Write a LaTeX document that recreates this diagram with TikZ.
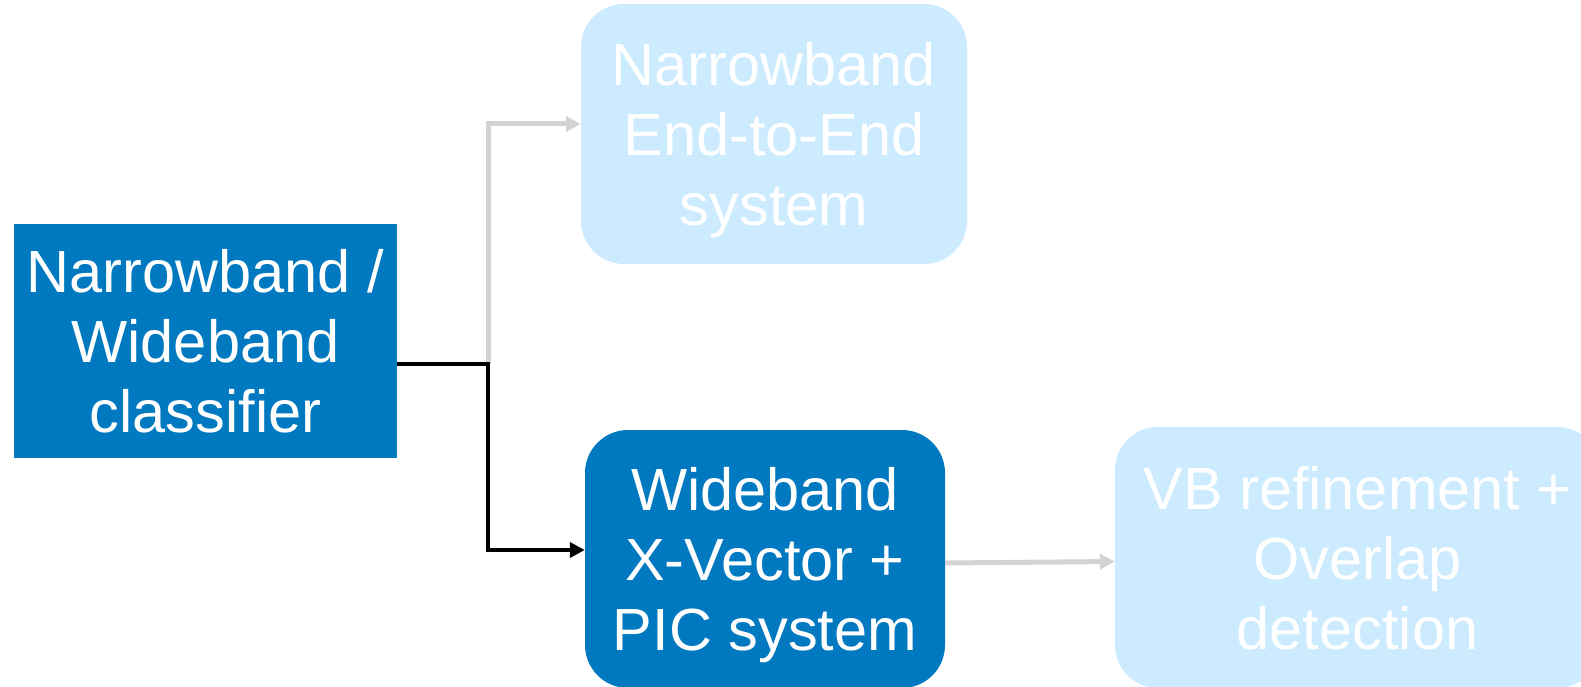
\documentclass[tikz,border=0pt]{standalone}
\usepackage{fontspec}
\setmainfont{Liberation Sans}
\usetikzlibrary{arrows.meta}
\definecolor{darkblue}{RGB}{0,121,193}
\definecolor{paleblue}{RGB}{204,235,255}
\definecolor{linkgray}{RGB}{211,211,211}
\tikzset{
  boxtext/.style={align=center, text=white, inner sep=0pt, text depth=0pt,
    font=\fontsize{59.5}{70}\selectfont},
  classbox/.style={boxtext, fill=darkblue, minimum width=383pt, minimum height=234pt},
  activebox/.style={boxtext, fill=darkblue, rounded corners=43pt},
  idlebox/.style={boxtext, fill=paleblue, rounded corners=43pt},
  activelink/.style={draw=black, line width=4.5pt, -{Triangle[length=15pt,width=15pt]}},
  idlelink/.style={draw=linkgray, line width=5pt, -{Triangle[length=15pt,width=15pt]}}
}
\begin{document}
\begin{tikzpicture}[x=1pt, y=-1pt]
  \useasboundingbox (0,0) rectangle (1581,687);
  \clip (0,0) rectangle (1581,687);

  \node[classbox] (cls) at (205.5,341)
    {Narrowband /\\Wideband\\classifier};
  \node[idlebox, minimum width=386pt, minimum height=260pt] (e2e) at (774,134)
    {Narrowband\\End-to-End\\system};
  \node[activebox, minimum width=360pt, minimum height=258pt] (wb) at (765,559)
    {Wideband\\X-Vector +\\PIC system};
  \node[idlebox, minimum width=485pt, minimum height=261pt] (vb) at (1357.5,557.5)
    {VB refinement +\\Overlap\\detection};

  \coordinate (split) at (488,364);

  \draw[idlelink] (split) |- ([yshift=10pt]e2e.west);
  \draw[activelink] ([yshift=-23pt]cls.east) -- (split) |- ([yshift=9pt]wb.west);
  \draw[idlelink] ([yshift=-4pt]wb.east) -- ([yshift=-4pt]vb.west);
\end{tikzpicture}
\end{document}
